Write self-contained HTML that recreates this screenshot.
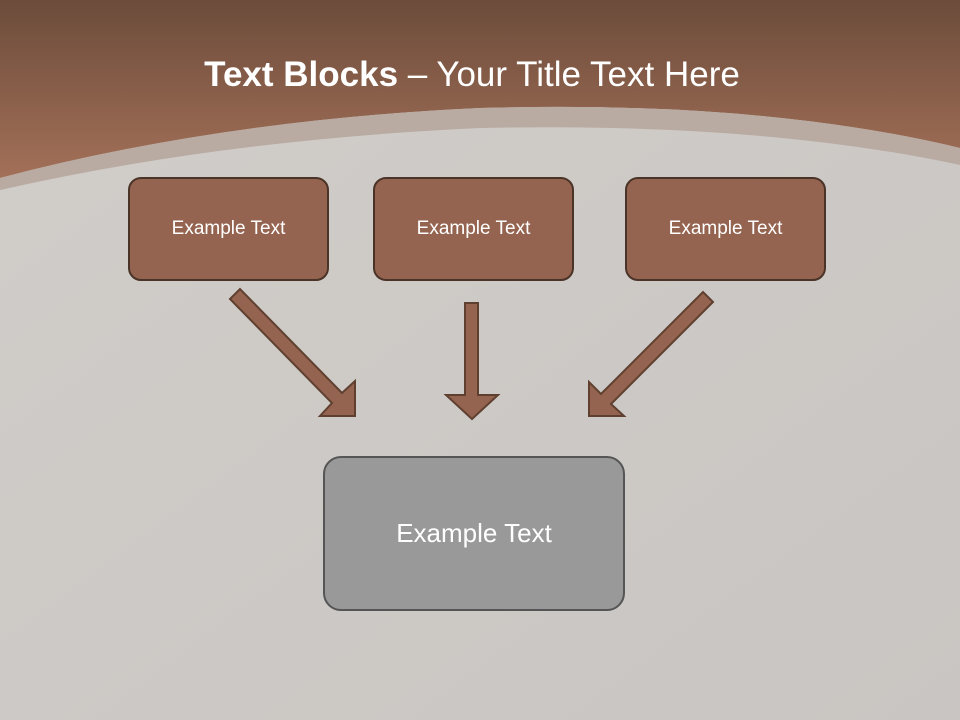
<!DOCTYPE html>
<html><head><style>
body{margin:0;width:960px;height:720px;overflow:hidden;font-family:"Liberation Sans",sans-serif}
.b{position:absolute;box-sizing:border-box;display:flex;align-items:center;justify-content:center;color:#fff}
.s{background:#956450;border:2px solid #4a3327;border-radius:13px;font-size:19px;width:201px;height:104px;top:177px}
</style></head><body>
<svg width="960" height="720" style="position:absolute;left:0;top:0">
<defs>
<linearGradient id="g" x1="0" y1="0" x2="0" y2="1"><stop offset="0" stop-color="#6c4c3b"/><stop offset="1" stop-color="#a37058"/></linearGradient>
<linearGradient id="bg" x1="0" y1="0" x2="1" y2="1"><stop offset="0" stop-color="#d1cdc9"/><stop offset="1" stop-color="#c9c5c2"/></linearGradient>
</defs>
<rect width="960" height="720" fill="url(#bg)"/>
<path d="M0 0H960V148Q760 100 480 108Q220 120 0 178Z" fill="url(#g)"/>
<path d="M0 178Q220 120 480 108Q760 100 960 148V165Q760 122 480 128Q220 140 0 190Z" fill="#b9aaa2"/>
<g fill="#956450" stroke="#5f4030" stroke-width="2">
<polygon points="230,299 240,289 342,393 355,381 355,416 320,416 332,403"/>
<polygon points="465,303 478,303 478,395 498,395 472,419 446,395 465,395"/>
<polygon points="713,302 703,292 601,394 589,382 589,416 624,416 611,404"/>
</g>
</svg>
<div style="position:absolute;top:55px;left:0;width:944px;text-align:center;color:#fff;font-size:35px"><b>Text Blocks</b> – Your Title Text Here</div>
<div class="b s" style="left:128px">Example Text</div>
<div class="b s" style="left:373px">Example Text</div>
<div class="b s" style="left:625px">Example Text</div>
<div class="b" style="left:323px;top:456px;width:302px;height:155px;background:#999;border:2px solid #555;border-radius:18px;font-size:26px">Example Text</div>
</body></html>
